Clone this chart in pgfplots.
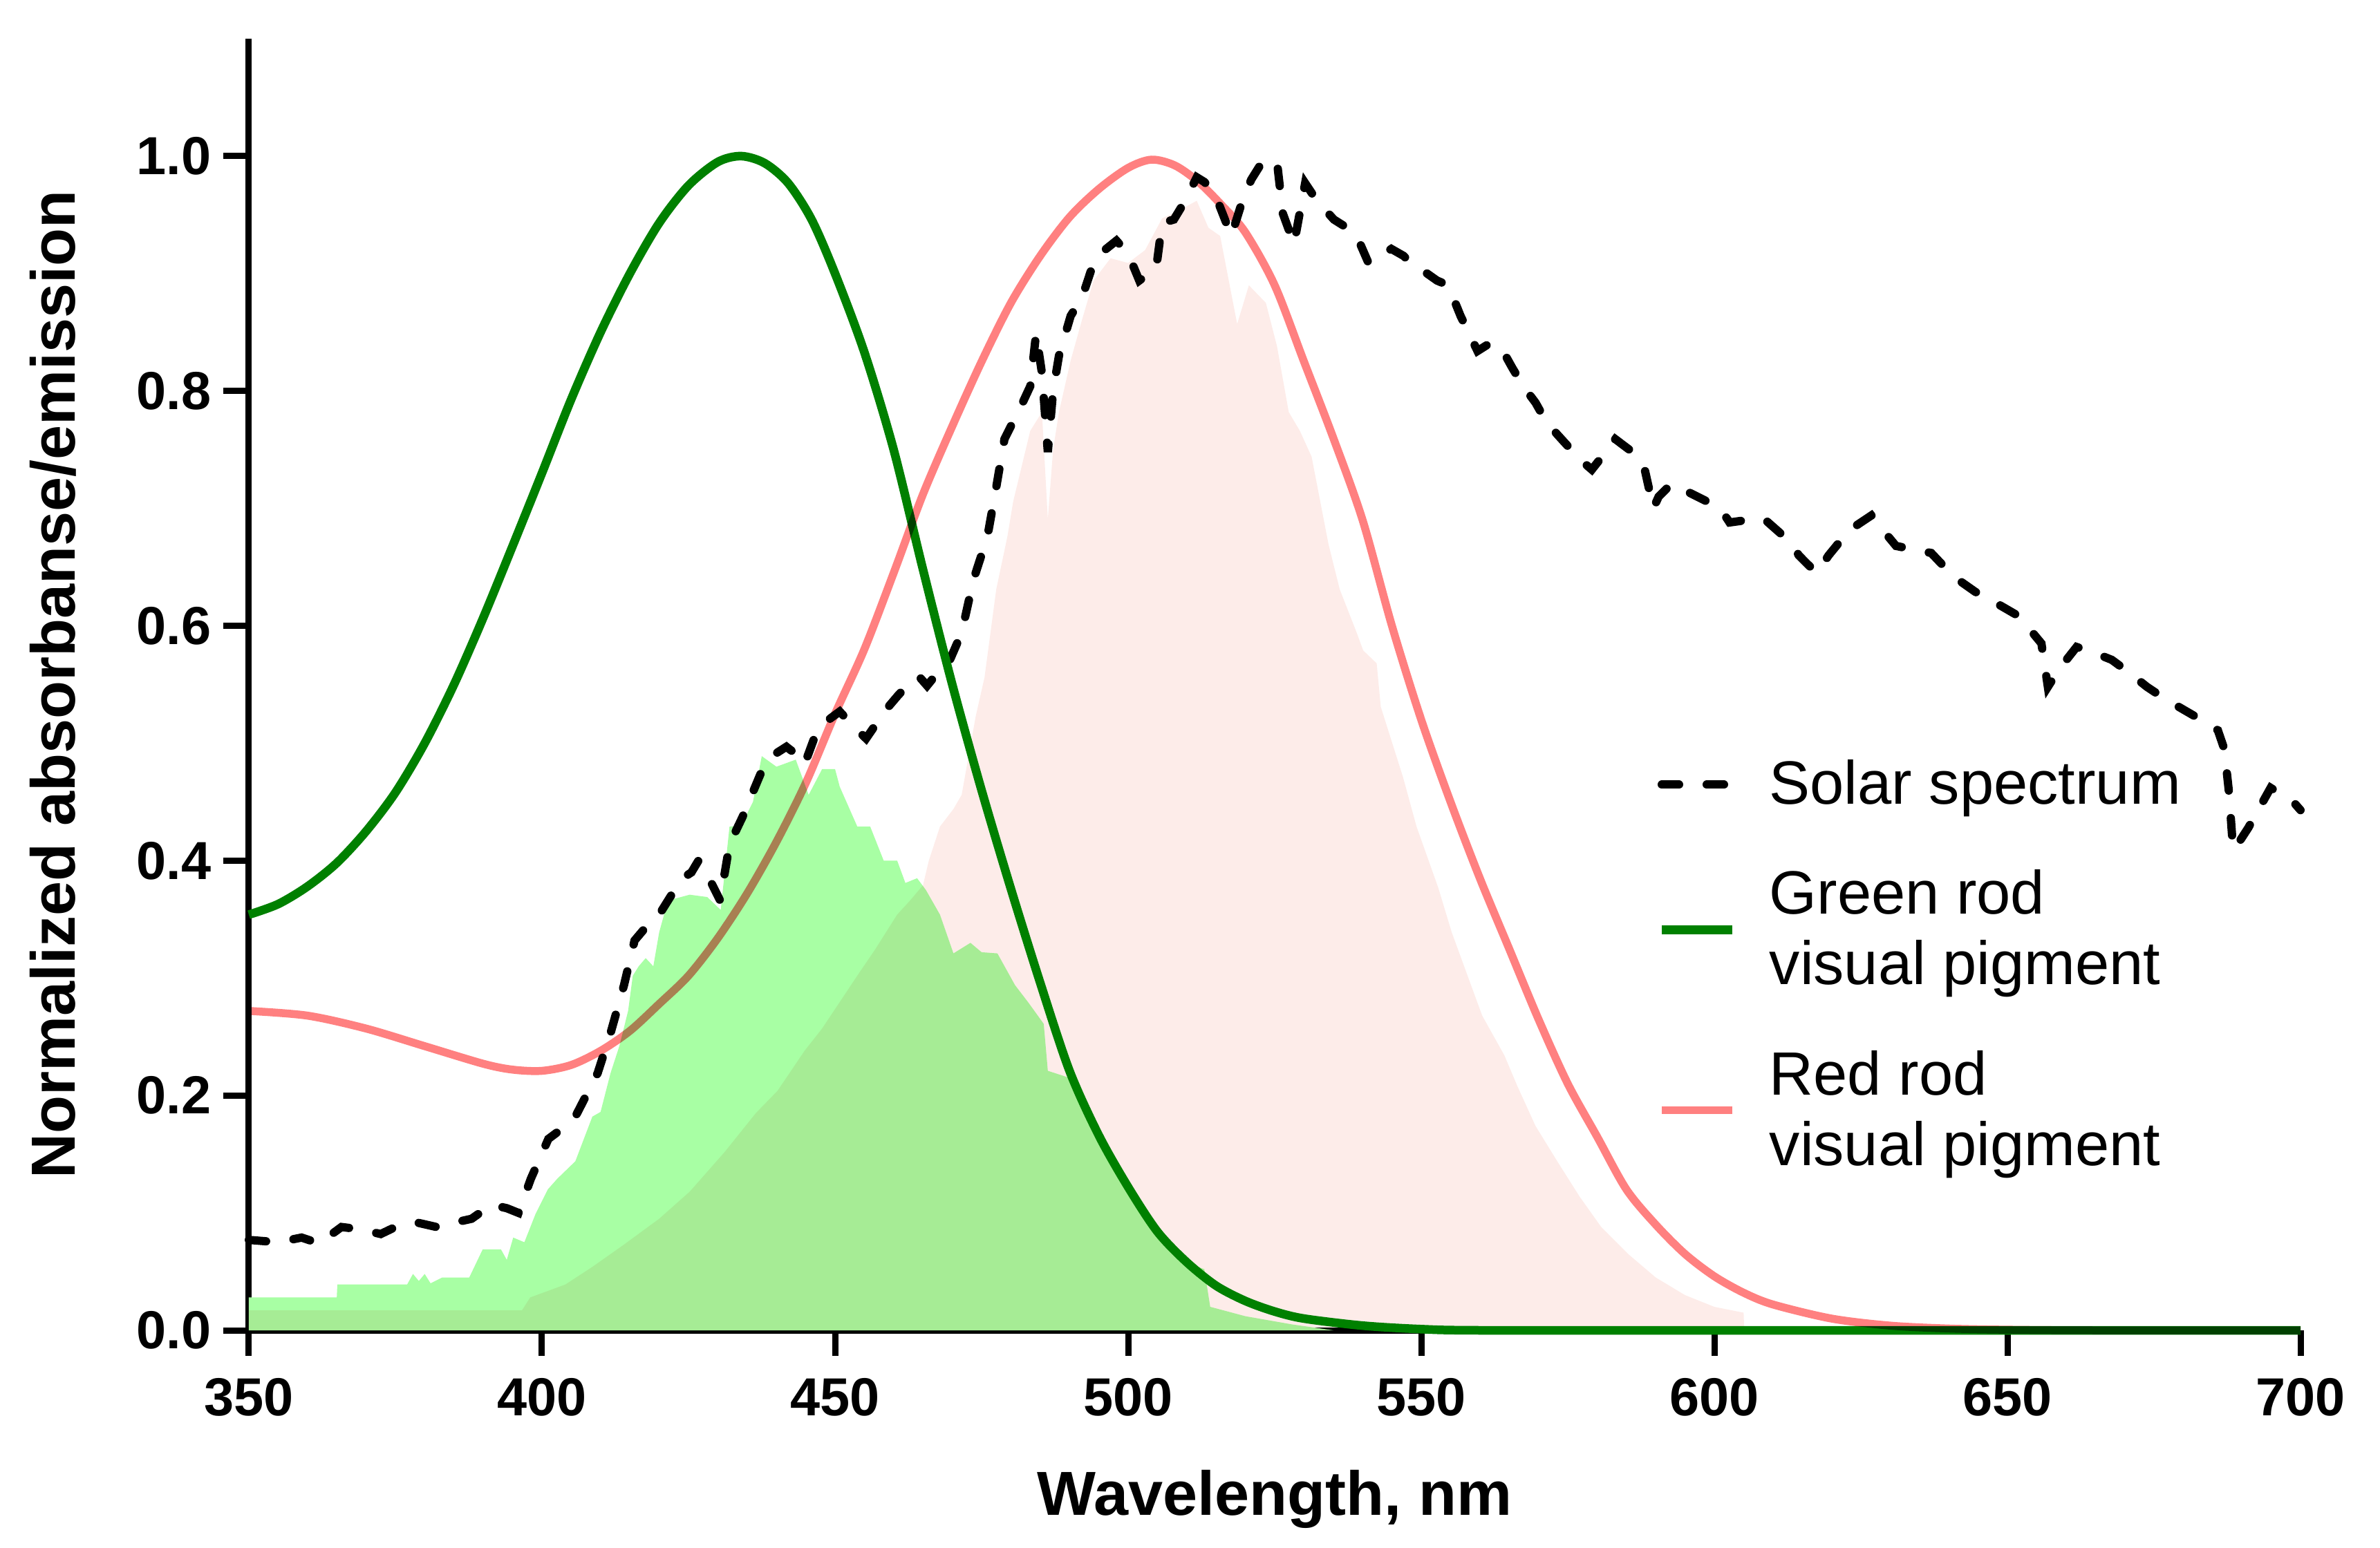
\documentclass[border=0pt]{standalone}
\usepackage{fontspec}
\setmainfont{Liberation Sans}
\usepackage{pgfplots}
\pgfplotsset{compat=1.18}
\definecolor{greenline}{RGB}{0,128,0}
\definecolor{redline}{RGB}{255,128,128}
\definecolor{gfill}{RGB}{168,255,164}
\definecolor{pfill}{RGB}{253,236,233}
\begin{document}
\begin{tikzpicture}
\begin{axis}[
 scale only axis, width=593.6pt, height=373.8pt,
 xmin=350, xmax=700, ymin=0, ymax=1.1,
 axis lines=left, axis line style={-, line width=1.8pt, black},
 clip=false,
 xtick={350,400,...,700}, ytick={0,0.2,0.4,0.6,0.8,1.0},
 tick align=outside, major tick length=7.4pt, tick style={line width=1.8pt, black},
 minor tick num=0,
 ticklabel style={font=\bfseries\fontsize{15.5}{18}\selectfont},
 xticklabel style={yshift=-3pt},
 /pgf/number format/assume math mode=true,
 yticklabel style={/pgf/number format/.cd, fixed, fixed zerofill, precision=1},
 xlabel={Wavelength, nm}, ylabel={Normalized absorbanse/emission},
 every axis x label/.style={at={(axis description cs:0.5,-0.1306)}, anchor=center, font=\bfseries\fontsize{18}{21}\selectfont},
 every axis y label/.style={at={(axis description cs:-0.0954,0.5)}, anchor=center, rotate=90, font=\bfseries\fontsize{18}{21}\selectfont},
 legend style={draw=none, fill=none, at={(axis cs:590.3,0.311)}, anchor=west, inner sep=0pt, outer sep=0pt,
   font=\fontsize{17.7}{20.4}\selectfont, cells={anchor=west, align=left, inner sep=0pt}, column sep=7.5pt, row sep=13.5pt},
 legend image code/.code={\draw[#1] (0pt,0pt) -- (20.4pt,0pt);},
]
% green emission (fill)
\addplot[draw=none, fill=gfill, forget plot] table {
350 0.028
365 0.028
365.1 0.039
377 0.039
378 0.048
379 0.042
380 0.048
381 0.040
383 0.045
387.6 0.045
389.9 0.069
393 0.069
394 0.060
395.1 0.079
397 0.075
398.9 0.099
401 0.120
402.6 0.129
405.7 0.144
408.6 0.182
410 0.186
411.7 0.219
413.2 0.242
414.7 0.272
415.5 0.302
416.5 0.310
417.7 0.317
419 0.310
420 0.339
421.5 0.366
425.2 0.371
428.2 0.369
430.5 0.358
432 0.429
434 0.430
436 0.450
437.5 0.489
440 0.480
443.3 0.486
445.5 0.456
447.8 0.478
450 0.478
450.8 0.463
453.8 0.429
456 0.429
458.3 0.400
460.6 0.400
462 0.381
464 0.385
465.5 0.375
467.9 0.354
470.2 0.321
473.1 0.330
475 0.322
477.7 0.321
480.7 0.294
483 0.279
485.6 0.261
486.3 0.221
490 0.215
495 0.165
500 0.120
505 0.085
510 0.058
513 0.052
514 0.020
520 0.012
528 0.005
535 0.000
} \closedcycle;
% red emission (fill)
\addplot[draw=none, fill=pfill, forget plot, blend mode=multiply] table {
350 0.017
396.6 0.017
398 0.028
404 0.039
408.6 0.054
414 0.073
420 0.095
425.2 0.118
431.2 0.152
436.5 0.185
440.2 0.204
444.8 0.238
447.8 0.257
453.8 0.302
456.8 0.324
460.6 0.354
462.8 0.366
465 0.379
466 0.400
467.9 0.429
470.2 0.444
471.6 0.456
474 0.523
475.5 0.556
477.5 0.631
479.4 0.676
480.4 0.706
483.3 0.766
485.3 0.782
486.3 0.691
487.2 0.750
488.2 0.782
490.2 0.826
492.1 0.860
494.1 0.894
497 0.913
500 0.909
502.9 0.920
505.8 0.947
508.8 0.954
511.7 0.962
513.7 0.939
515.7 0.932
518.6 0.857
520.6 0.890
523.5 0.875
525.4 0.838
527.4 0.782
529.3 0.766
531.3 0.744
534.2 0.669
536.1 0.631
539 0.594
540.1 0.579
542.4 0.568
543.1 0.531
546.9 0.471
549.2 0.429
552.9 0.377
555.2 0.339
558.2 0.298
560.4 0.268
564.2 0.234
566.4 0.208
569.5 0.174
573.2 0.144
577 0.114
580.7 0.088
585.3 0.065
590 0.045
595 0.030
600 0.020
605 0.015
605.1 0.000
} \closedcycle;
% solar spectrum
\addplot[black, mark=none, line width=2.4pt, dash pattern=on 5pt off 8pt, line cap=round] table {
350 0.077
355 0.075
359 0.079
362 0.074
365.8 0.088
369 0.086
372.5 0.082
375 0.088
378.5 0.092
382 0.088
385.3 0.092
388 0.095
391.4 0.107
394 0.104
396 0.100
398.1 0.129
401.1 0.163
403.5 0.172
405.7 0.182
409.5 0.219
411.7 0.253
414 0.294
415.8 0.332
418 0.345
420 0.354
422 0.370
423.7 0.384
425.5 0.390
426.7 0.400
428.5 0.385
430.4 0.366
432 0.414
434.2 0.437
437.3 0.474
439.5 0.490
441.7 0.497
443.5 0.490
444.8 0.482
446.5 0.505
447.8 0.516
450.8 0.527
453 0.515
455.3 0.504
457.5 0.520
459.1 0.531
460.8 0.541
462.5 0.550
464.3 0.557
465.7 0.549
467.5 0.560
469.6 0.571
471.6 0.594
473.6 0.639
476 0.676
477.5 0.718
478.9 0.759
480.4 0.774
482 0.790
483.3 0.804
484.3 0.849
485.3 0.815
486.3 0.748
487.2 0.800
488.2 0.830
490.2 0.864
492.1 0.879
494.1 0.909
496 0.920
498 0.928
500 0.917
501.9 0.894
503.5 0.900
504.8 0.905
505.8 0.943
507.8 0.946
509.5 0.960
510.8 0.973
511.7 0.982
513 0.978
514.7 0.969
516.2 0.950
517.6 0.932
519.5 0.962
521 0.980
522.5 0.992
524 0.990
525.4 0.995
526.4 0.951
528.3 0.925
530.2 0.977
532.2 0.962
535.1 0.946
537 0.940
539 0.932
541 0.909
543 0.915
544.9 0.921
547 0.915
549 0.905
551 0.900
552.7 0.894
554.6 0.890
556.7 0.864
559.6 0.834
561.5 0.840
563.5 0.838
565.5 0.820
567.4 0.804
569.5 0.790
571.3 0.774
573.2 0.763
575.2 0.752
577 0.742
579.1 0.733
581 0.745
583.1 0.759
585.5 0.750
588 0.736
589.6 0.700
590.5 0.710
591.9 0.717
592.8 0.721
595.5 0.714
598.7 0.706
601 0.700
602.6 0.688
605.5 0.690
608.5 0.691
611 0.680
613.4 0.669
614.4 0.660
616 0.652
617.5 0.645
619.5 0.660
621.3 0.671
623.5 0.683
626.8 0.694
629 0.680
631 0.668
634 0.665
637 0.662
640.8 0.642
644.5 0.629
648.2 0.619
652 0.608
655.8 0.585
656.9 0.548
658.8 0.563
661.8 0.582
664.8 0.577
667.8 0.571
670.8 0.560
673.8 0.548
676.8 0.538
679.9 0.529
683 0.520
685.9 0.511
687 0.495
687.8 0.458
688.5 0.409
689.8 0.418
691.1 0.428
693 0.445
694.9 0.462
696.8 0.456
698.6 0.451
700 0.443
};
\addlegendentry{Solar spectrum}
% green rod absorbance
\addplot[greenline, mark=none, line width=2.5pt, smooth] table {
350 0.354
355 0.363
360 0.378
365 0.398
370 0.425
375 0.458
380 0.500
385 0.550
390 0.607
395 0.668
400 0.730
405 0.793
410 0.850
415 0.900
420 0.943
425 0.975
430 0.995
434 1.000
438 0.994
442 0.977
446 0.946
450 0.900
455 0.833
460 0.750
465 0.648
470 0.550
475 0.460
480 0.376
485 0.296
490 0.221
495 0.166
500 0.122
505 0.084
510 0.058
515 0.038
520 0.025
525 0.016
530 0.010
540 0.004
550 0.001
560 0.000
600 0.000
650 0.000
700 0.000
};
\addlegendentry{Green rod\\visual pigment}
% red rod absorbance
\addplot[redline, mark=none, line width=2.3pt, smooth, blend mode=multiply] table {
350 0.272
360 0.268
370 0.257
380 0.242
390 0.227
395 0.222
400 0.221
405 0.226
410 0.238
415 0.255
420 0.278
425 0.302
430 0.334
435 0.372
440 0.416
445 0.466
450 0.525
455 0.580
460 0.645
465 0.712
470 0.770
475 0.825
480 0.875
485 0.915
490 0.948
495 0.972
500 0.990
504 0.997
508 0.992
512 0.978
516 0.958
520 0.935
525 0.890
530 0.825
535 0.760
540 0.690
545 0.600
550 0.520
555 0.450
560 0.385
565 0.325
570 0.265
575 0.210
580 0.165
585 0.120
590 0.090
595 0.065
600 0.046
605 0.032
610 0.022
620 0.010
630 0.004
640 0.0015
650 0.0005
665 0.000
700 0.000
};
\addlegendentry{Red rod\\visual pigment}
\end{axis}
\pgfresetboundingbox
\path[use as bounding box] ([xshift=-72pt,yshift=-62.8pt]current axis.south west) rectangle ([xshift=23pt,yshift=11.2pt]current axis.north east);
\end{tikzpicture}
\end{document}
